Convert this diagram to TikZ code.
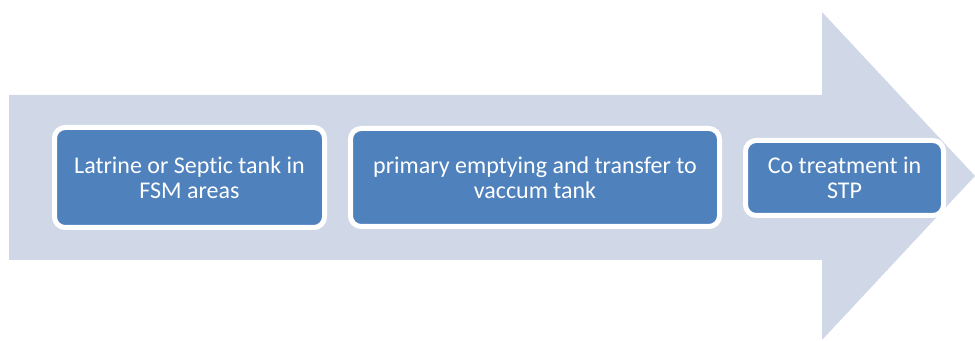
\documentclass[tikz,border=0pt]{standalone}
\usepackage{fontspec}
\setmainfont[Ligatures=CommonOff]{Carlito}
\usepackage{xcolor}
\usepackage{tikz}

\definecolor{flowback}{HTML}{D0D8E8}
\definecolor{stepblue}{HTML}{4F81BD}

\begin{document}
\begin{tikzpicture}[
    x=0.75pt, y=-0.75pt,
    box/.style={draw=white, line width=3.75pt, fill=stepblue, rounded corners=8pt, align=center,
                text=white, inner sep=0pt, font=\fontsize{18}{18.9}\selectfont}
]
\useasboundingbox (0,0) rectangle (975,341);
% big process arrow in the background
\fill[flowback] (9,95) -- (822,95) -- (822,12) -- (975,176) -- (822,340) -- (822,260) -- (9,260) -- cycle;

\node[box, minimum width=202.5pt, minimum height=75pt] (latrine) at (189.5,177.5) {Latrine or Septic tank in\\FSM areas};
\node[box, minimum width=276.75pt, minimum height=73.5pt] (emptying) at (535,177.5) {primary emptying and transfer to\\vaccum tank};
\node[box, minimum width=148.5pt, minimum height=56.25pt] (treatment) at (844.5,178) {Co treatment in\\STP};
\end{tikzpicture}
\end{document}
